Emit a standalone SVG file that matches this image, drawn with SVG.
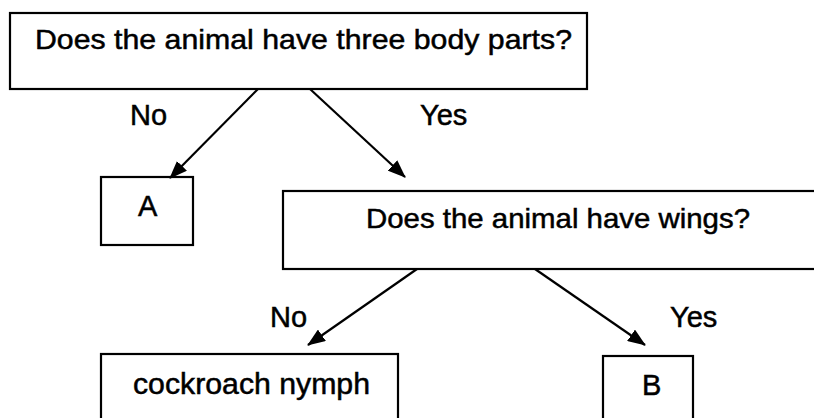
<svg xmlns="http://www.w3.org/2000/svg" width="814" height="418" viewBox="0 0 814 418">
<style>
.box{fill:#fff;stroke:#000;stroke-width:2.2}
.t{font-family:"Liberation Sans",Arial,sans-serif;fill:#000;stroke:#000;stroke-width:0.5}
.lbl{font-size:29px}
.edge{stroke:#000;stroke-width:2.2;fill:none;marker-end:url(#ah)}
</style>
<defs>
<marker id="ah" markerWidth="18" markerHeight="14" refX="17" refY="7" orient="auto" markerUnits="userSpaceOnUse">
<path d="M0,0 L18,7 L0,14 Z" fill="#000"/>
</marker>
</defs>
<rect width="814" height="418" fill="#fff"/>
<g id="q1">
<rect class="box" x="10" y="13" width="577" height="76"/>
<text class="t" x="35" y="49" font-size="28" textLength="537" lengthAdjust="spacingAndGlyphs">Does the animal have three body parts?</text>
</g>
<g id="a">
<rect class="box" x="101" y="177" width="92" height="68"/>
<text class="t lbl" x="138" y="216">A</text>
</g>
<g id="q2">
<rect class="box" x="283" y="191" width="540" height="78"/>
<text class="t" x="366" y="228" font-size="28" textLength="384" lengthAdjust="spacingAndGlyphs">Does the animal have wings?</text>
</g>
<g id="cockroach">
<rect class="box" x="101" y="354" width="297" height="80"/>
<text class="t" x="133" y="394" font-size="29" textLength="237" lengthAdjust="spacingAndGlyphs">cockroach nymph</text>
</g>
<g id="b">
<rect class="box" x="603" y="356" width="90" height="80"/>
<text class="t lbl" x="642" y="395">B</text>
</g>
<g id="connectors">
<line class="edge" x1="258" y1="89" x2="170" y2="178"/>
<line class="edge" x1="310" y1="89" x2="405" y2="177"/>
<line class="edge" x1="417" y1="269" x2="308" y2="345"/>
<line class="edge" x1="535" y1="269" x2="645" y2="345"/>
<text class="t lbl" x="130" y="125">No</text>
<text class="t lbl" x="420" y="125">Yes</text>
<text class="t lbl" x="270" y="327">No</text>
<text class="t lbl" x="670" y="327">Yes</text>
</g>
</svg>
